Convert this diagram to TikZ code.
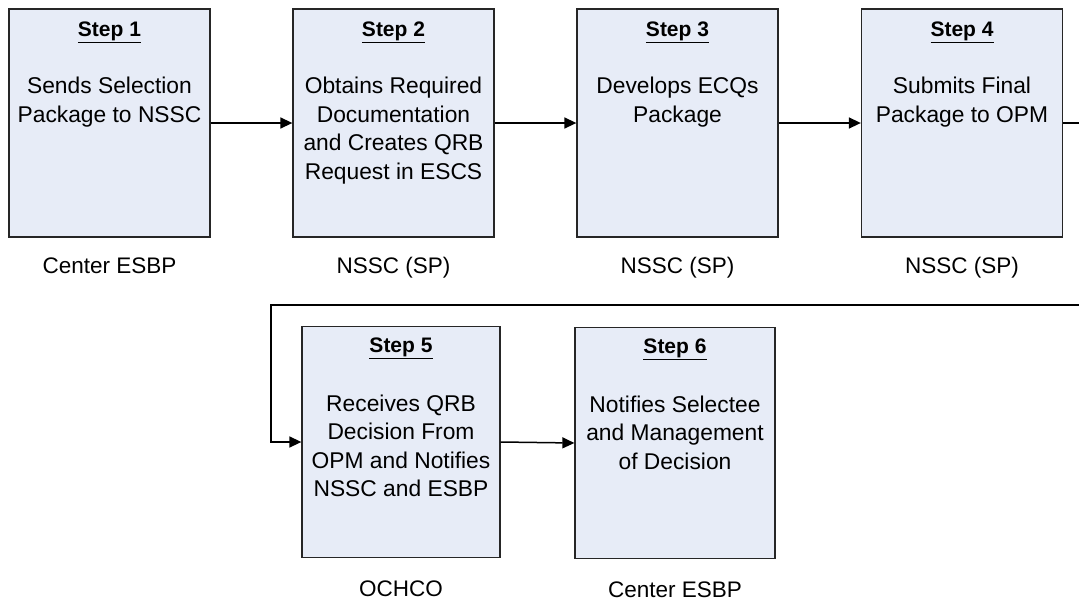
\documentclass[tikz,border=0pt]{standalone}
\usepackage{fontspec}
\setmainfont{Liberation Sans}
\usetikzlibrary{arrows.meta,calc}
\definecolor{boxfill}{HTML}{E7ECF7}
\definecolor{boxline}{HTML}{262626}
\begin{document}
\begin{tikzpicture}[x=1pt,y=-1pt,
  stepbox/.style={draw=boxline,fill=boxfill,line width=1.3pt,minimum width=201pt,minimum height=228pt,inner sep=0pt},
  steptitle/.style={anchor=base,inner sep=0pt,font=\fontsize{21}{26}\selectfont\bfseries},
  bodytext/.style={anchor=north,inner sep=0pt,align=center,font=\fontsize{22.8}{28.5}\selectfont},
  who/.style={anchor=base,inner sep=0pt,font=\fontsize{22.5}{26}\selectfont},
  conn/.style={line width=1.5pt,-{Triangle[length=12pt,width=11pt]}}]
\useasboundingbox (0,0) rectangle (1079,600);
% top row
\node[stepbox] (s1) at (109.5,123) {};
\node[stepbox] (s2) at (393.5,123) {};
\node[stepbox] (s3) at (677.5,123) {};
\node[stepbox] (s4) at (962,123) {};
% bottom row
\node[stepbox,minimum width=198pt,minimum height=231pt] (s5) at (401,442) {};
\node[stepbox,minimum width=200pt,minimum height=231pt] (s6) at (675,443) {};
% titles
\node[steptitle] (t1) at ($(s1.north)+(0,28)$) {\underline{Step 1}};
\node[steptitle] (t2) at ($(s2.north)+(0,28)$) {\underline{Step 2}};
\node[steptitle] (t3) at ($(s3.north)+(0,28)$) {\underline{Step 3}};
\node[steptitle] (t4) at ($(s4.north)+(0,28)$) {\underline{Step 4}};
\node[steptitle] (t5) at ($(s5.north)+(0,27)$) {\underline{Step 5}};
\node[steptitle] (t6) at ($(s6.north)+(0,27)$) {\underline{Step 6}};
% bodies
\node[bodytext] (b1) at ($(s1.north)+(0,64)$) {\rule{0pt}{21pt}Sends Selection\\Package to NSSC};
\node[bodytext] (b2) at ($(s2.north)+(0,64)$) {\rule{0pt}{21pt}Obtains Required\\Documentation\\and Creates QRB\\Request in ESCS};
\node[bodytext] (b3) at ($(s3.north)+(0,64)$) {\rule{0pt}{21pt}Develops ECQs\\Package};
\node[bodytext] (b4) at ($(s4.north)+(0,64)$) {\rule{0pt}{21pt}Submits Final\\Package to OPM};
\node[bodytext] (b5) at ($(s5.north)+(0,64)$) {\rule{0pt}{21pt}Receives QRB\\Decision From\\OPM and Notifies\\NSSC and ESBP};
\node[bodytext] (b6) at ($(s6.north)+(0,64)$) {\rule{0pt}{21pt}Notifies Selectee\\and Management\\of Decision};
% responsible parties
\node[who] (w1) at ($(s1.south)+(0,36)$) {Center ESBP};
\node[who] (w2) at ($(s2.south)+(0,36)$) {NSSC (SP)};
\node[who] (w3) at ($(s3.south)+(0,36)$) {NSSC (SP)};
\node[who] (w4) at ($(s4.south)+(0,36)$) {NSSC (SP)};
\node[who] (w5) at ($(s5.south)+(0,38)$) {OCHCO};
\node[who] (w6) at ($(s6.south)+(0,38)$) {Center ESBP};
% connectors
\draw[conn] (s1.east) -- (s2.west);
\draw[conn] (s2.east) -- (s3.west);
\draw[conn] (s3.east) -- (s4.west);
\coordinate (c1) at (1082,123);
\coordinate (c2) at (1082,305);
\coordinate (c3) at (271,305);
\draw[conn] (s4.east) -- (c1) -- (c2) -- (c3) |- (s5.west);
\draw[conn] (s5.east) -- (s6.west);
\end{tikzpicture}
\end{document}
